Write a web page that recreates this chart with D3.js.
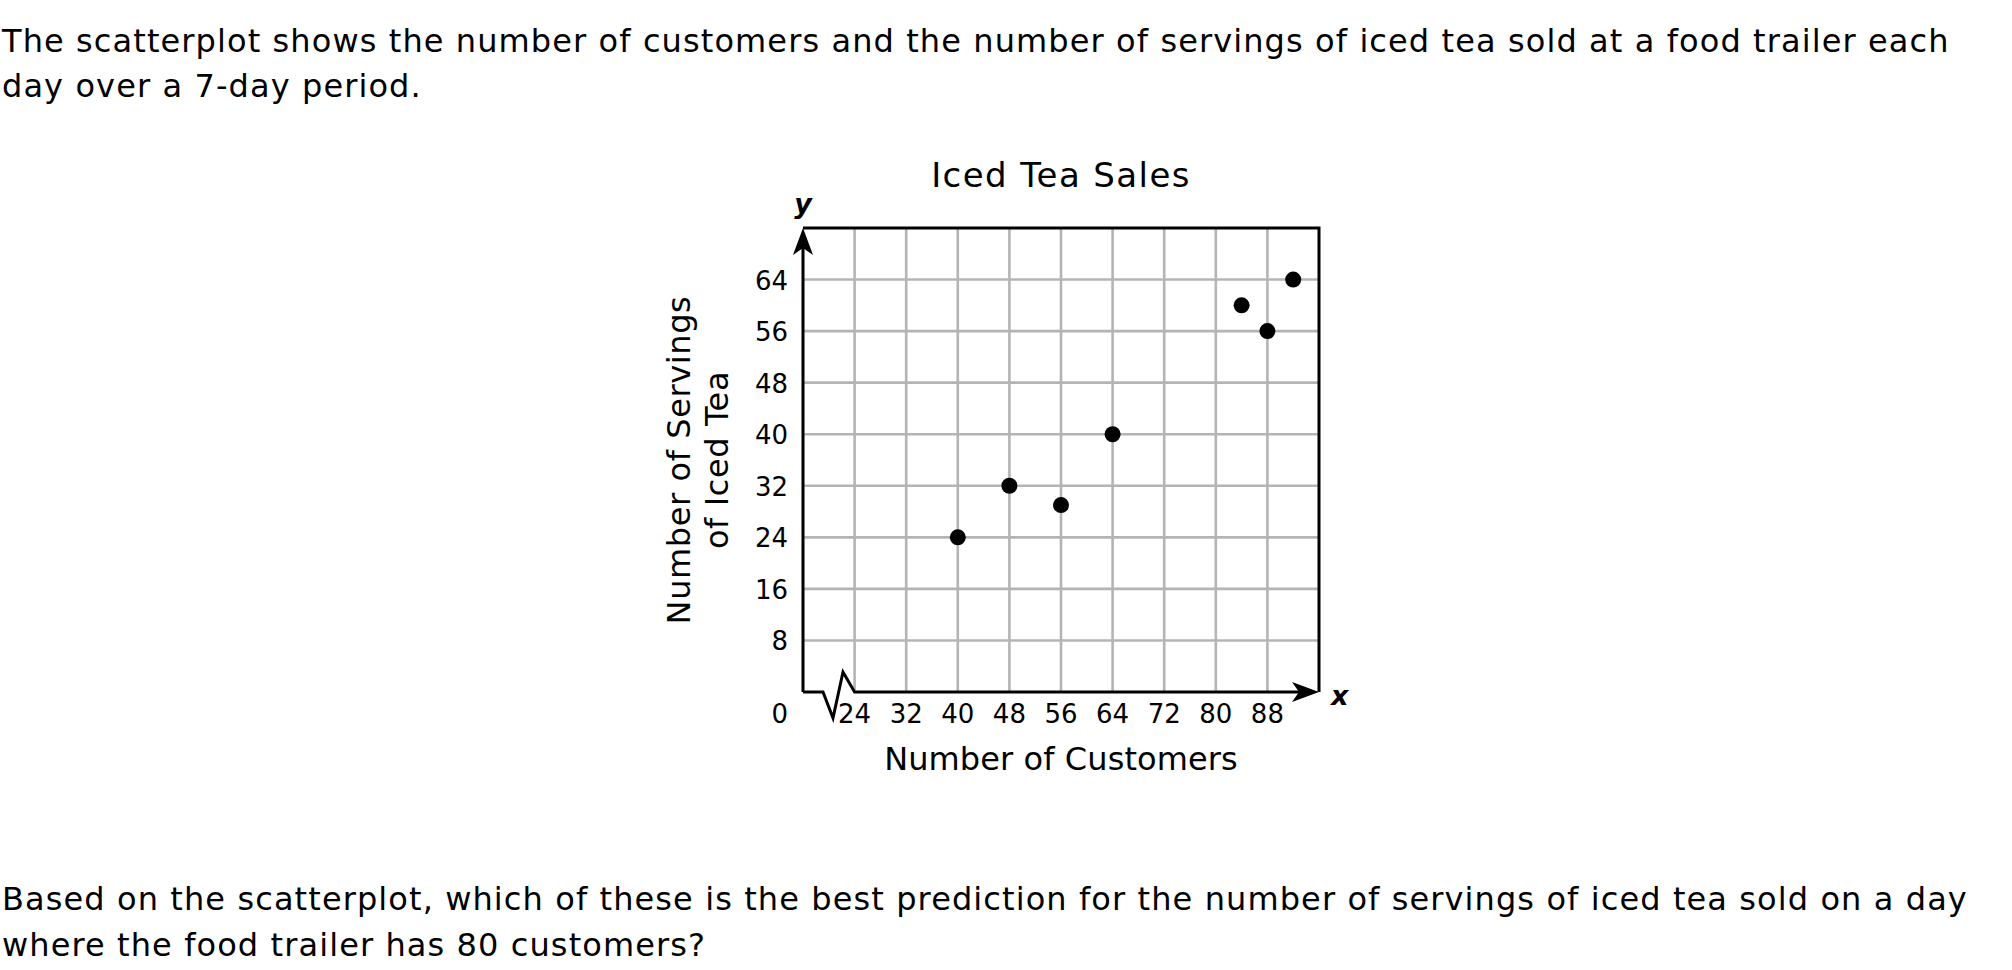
<!DOCTYPE html>
<html>
<head>
<meta charset="utf-8">
<script src="https://cdn.jsdelivr.net/npm/d3@7"></script>
<style>
  html, body { margin: 0; padding: 0; background: #fff; }
  svg { display: block; }
  text { font-family: "DejaVu Sans", Verdana, sans-serif; fill: #000; }
</style>
</head>
<body>
<svg id="chart" width="2012" height="970"></svg>
<script>
// ---- data ----
const customers = [40, 48, 56, 64, 84, 88, 92];
const servings  = [24, 32, 29, 40, 60, 56, 64];
const xTicks = [24, 32, 40, 48, 56, 64, 72, 80, 88];
const yTicks = [8, 16, 24, 32, 40, 48, 56, 64];
const titleText = "Iced Tea Sales";
const xTitle = "Number of Customers";
const yTitleLines = ["Number of Servings", "of Iced Tea"];
const introLines = [
  "The scatterplot shows the number of customers and the number of servings of iced tea sold at a food trailer each",
  "day over a 7-day period."
];
const questionLines = [
  "Based on the scatterplot, which of these is the best prediction for the number of servings of iced tea sold on a day",
  "where the food trailer has 80 customers?"
];

// ---- layout ----
const svg = d3.select("#chart");
const pL = 803, pR = 1319, pT = 228, pB = 692;
const x = d3.scaleLinear().domain([16, 96]).range([pL, pR]);
const y = d3.scaleLinear().domain([0, 72]).range([pB, pT]);
const gridColor = "#b4b4b4";

// intro / question text
svg.selectAll("text.intro").data(introLines).join("text")
  .attr("class", "intro")
  .attr("x", 2).attr("y", (d, i) => 52 + i * 45)
  .style("font-size", "32px").style("letter-spacing", "1.1px").text(d => d);
svg.selectAll("text.question").data(questionLines).join("text")
  .attr("class", "question")
  .attr("x", 2).attr("y", (d, i) => 910 + i * 46)
  .style("font-size", "32px").style("letter-spacing", "1.1px").text(d => d);

// grid
const g = svg.append("g");
g.selectAll("line.vgrid").data(xTicks).join("line")
  .attr("class", "vgrid")
  .attr("x1", d => x(d)).attr("x2", d => x(d))
  .attr("y1", pT).attr("y2", pB)
  .attr("stroke", gridColor).attr("stroke-width", 2.6);
g.selectAll("line.hgrid").data(yTicks).join("line")
  .attr("class", "hgrid")
  .attr("x1", pL).attr("x2", pR)
  .attr("y1", d => y(d)).attr("y2", d => y(d))
  .attr("stroke", gridColor).attr("stroke-width", 2.6);

// frame: top and right borders
g.append("path")
  .attr("d", `M${pL},${pT}H${pR}V${pB}`)
  .attr("fill", "none").attr("stroke", "#000").attr("stroke-width", 3);

// y axis line
g.append("line").attr("x1", pL).attr("x2", pL)
  .attr("y1", pB).attr("y2", pT + 6)
  .attr("stroke", "#000").attr("stroke-width", 3);

// x axis with break
const bx = x(24);
g.append("path")
  .attr("d", `M${pL},${pB}L${pL + 20},${pB}L${pL + 30},${pB + 26}L${pL + 40},${pB - 20}L${bx},${pB}L${pR - 8},${pB}`)
  .attr("fill", "none").attr("stroke", "#000").attr("stroke-width", 3)
  .attr("stroke-linejoin", "miter");

// arrowheads
g.append("path")
  .attr("d", `M${pL},${pT}L${pL + 10},${pT + 27}L${pL},${pT + 20}L${pL - 10},${pT + 27}Z`)
  .attr("fill", "#000");
g.append("path")
  .attr("d", `M${pR},${pB}L${pR - 27},${pB - 10}L${pR - 20},${pB}L${pR - 27},${pB + 10}Z`)
  .attr("fill", "#000");

// tick labels
g.selectAll("text.xt").data(xTicks).join("text")
  .attr("class", "xt")
  .attr("x", d => x(d)).attr("y", pB + 31)
  .attr("text-anchor", "middle").style("font-size", "26px").text(d => d);
g.selectAll("text.yt").data(yTicks).join("text")
  .attr("class", "yt")
  .attr("x", pL - 15).attr("y", d => y(d) + 10)
  .attr("text-anchor", "end").style("font-size", "26px").text(d => d);
g.append("text").attr("x", pL - 15).attr("y", pB + 31)
  .attr("text-anchor", "end").style("font-size", "26px").text("0");

// axis letters
g.append("text").attr("x", pL).attr("y", pT - 15)
  .attr("text-anchor", "middle")
  .style("font-size", "27px").style("font-weight", "bold").style("font-style", "italic")
  .text("y");
g.append("text").attr("x", pR + 12).attr("y", pB + 13)
  .style("font-size", "27px").style("font-weight", "bold").style("font-style", "italic")
  .text("x");

// titles
svg.append("text").attr("x", 1061).attr("y", 187)
  .attr("text-anchor", "middle").style("font-size", "34px").style("letter-spacing", "1.4px").text(titleText);
svg.append("text").attr("x", 1061).attr("y", 770)
  .attr("text-anchor", "middle").style("font-size", "32px").style("letter-spacing", "0.1px").text(xTitle);
svg.selectAll("text.ytitle").data(yTitleLines).join("text")
  .attr("class", "ytitle")
  .attr("transform", (d, i) => `translate(${690 + i * 38},${(pT + pB) / 2}) rotate(-90)`)
  .attr("text-anchor", "middle").style("font-size", "32px").style("letter-spacing", "0.6px").text(d => d);

// points
g.selectAll("circle.pt").data(customers.map((c, i) => [c, servings[i]])).join("circle")
  .attr("class", "pt")
  .attr("cx", d => x(d[0])).attr("cy", d => y(d[1]))
  .attr("r", 8).attr("fill", "#000");
</script>
</body>
</html>
